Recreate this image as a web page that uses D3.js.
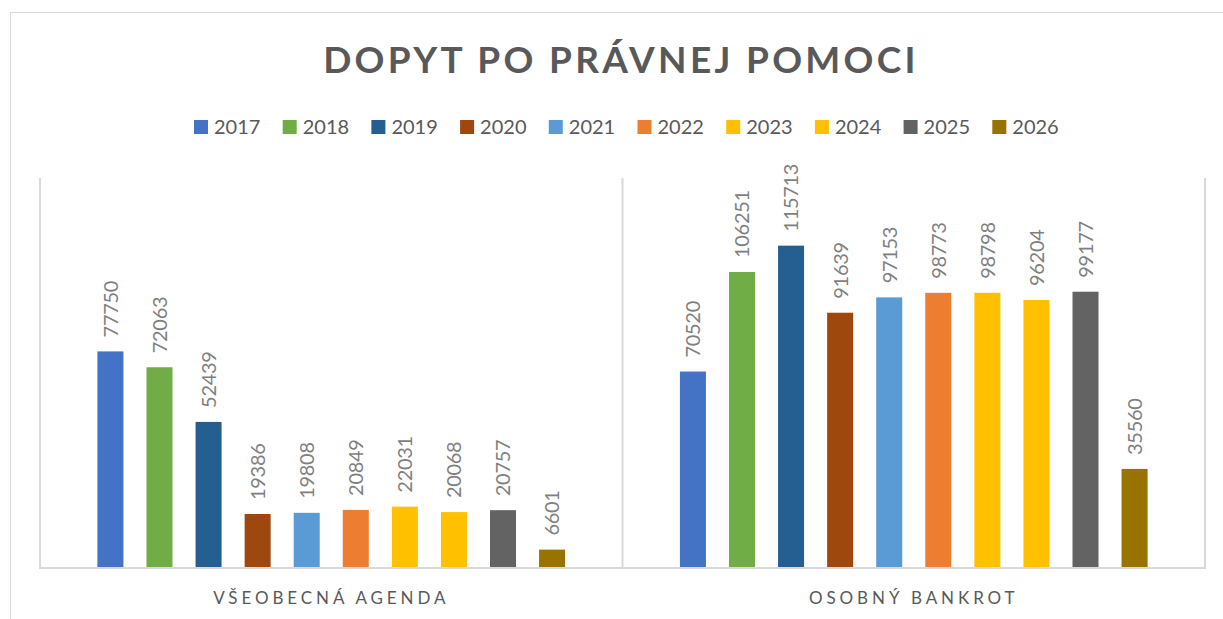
<!DOCTYPE html>
<html>
<head>
<meta charset="utf-8">
<style>
  body { margin: 0; background: #fff; }
  svg text { font-family: Lato, "Open Sans", sans-serif; }
</style>
</head>
<body>
<svg width="1223" height="619"></svg>
<script src="https://d3js.org/d3.v7.min.js"></script>
<script>
// data
const categories = ["VŠEOBECNÁ AGENDA", "OSOBNÝ BANKROT"];
const years = ["2017", "2018", "2019", "2020", "2021", "2022", "2023", "2024", "2025", "2026"];
const agendaValues = [77750, 72063, 52439, 19386, 19808, 20849, 22031, 20068, 20757, 6601];
const bankrotValues = [70520, 106251, 115713, 91639, 97153, 98773, 98798, 96204, 99177, 35560];
const colors = ["#4472C4", "#70AD47", "#255E91", "#9E480E", "#5B9BD5", "#ED7D31", "#FFC000", "#FFC000", "#636363", "#997300"];

const svg = d3.select("svg");

// chart border
svg.append("rect")
    .attr("x", 10.5).attr("y", 12.5)
    .attr("width", 1300).attr("height", 700)
    .attr("fill", "none").attr("stroke", "#d9d9d9");

const plot = { left: 40, right: 1205, top: 178, bottom: 568 };

const x0 = d3.scaleBand()
    .domain(categories)
    .range([plot.left, plot.right]);

const x1 = d3.scaleBand()
    .domain(years)
    .range([0, x0.bandwidth()])
    .paddingInner(0.47)
    .paddingOuter(1.17);

const y = d3.scaleLinear()
    .domain([0, 140000])
    .range([plot.bottom, plot.top]);

const color = d3.scaleOrdinal().domain(years).range(colors);

// title
svg.append("text")
    .attr("x", 621).attr("y", 73)
    .attr("text-anchor", "middle")
    .attr("font-size", 37)
    .attr("font-weight", "bold")
    .attr("letter-spacing", 3.3)
    .attr("fill", "#595959")
    .text("DOPYT PO PRÁVNEJ POMOCI");

// legend
const legend = svg.append("g").attr("transform", "translate(194,120)");
const item = legend.selectAll("g")
    .data(years)
    .enter().append("g")
    .attr("transform", (d, i) => `translate(${i * 88.7},0)`);
item.append("rect")
    .attr("width", 14).attr("height", 14)
    .attr("fill", d => color(d));
item.append("text")
    .attr("x", 20).attr("y", 14)
    .attr("font-size", 20)
    .attr("fill", "#595959")
    .text(d => d);

// category separators and axis line
svg.append("g")
    .selectAll("line")
    .data([plot.left, ...categories.map(c => x0(c) + x0.bandwidth())])
    .enter().append("line")
    .attr("x1", d => d).attr("x2", d => d)
    .attr("y1", plot.top).attr("y2", plot.bottom)
    .attr("stroke", "#d9d9d9").attr("stroke-width", 2);

svg.append("line")
    .attr("x1", plot.left - 1).attr("x2", plot.right + 1)
    .attr("y1", plot.bottom).attr("y2", plot.bottom)
    .attr("stroke", "#d9d9d9").attr("stroke-width", 2);

// bars
const rows = [agendaValues, bankrotValues];
const groups = svg.append("g")
    .selectAll("g")
    .data(categories)
    .enter().append("g")
    .attr("transform", d => `translate(${x0(d)},0)`);

groups.selectAll("rect")
    .data((c, ci) => years.map((yr, i) => ({ year: yr, value: rows[ci][i] })))
    .enter().append("rect")
    .attr("x", d => x1(d.year))
    .attr("y", d => y(d.value))
    .attr("width", x1.bandwidth())
    .attr("height", d => plot.bottom - 1 - y(d.value))
    .attr("fill", d => color(d.year));

groups.selectAll("text")
    .data((c, ci) => years.map((yr, i) => ({ year: yr, value: rows[ci][i] })))
    .enter().append("text")
    .attr("transform", d => `translate(${x1(d.year) + x1.bandwidth() / 2},${y(d.value) - 14}) rotate(-90)`)
    .attr("dy", "0.37em")
    .attr("font-size", 20)
    .attr("letter-spacing", -0.3)
    .attr("fill", "#7f7f7f")
    .text(d => d.value);

// category labels
svg.append("g")
    .selectAll("text")
    .data(categories)
    .enter().append("text")
    .attr("x", d => x0(d) + x0.bandwidth() / 2)
    .attr("y", 604)
    .attr("text-anchor", "middle")
    .attr("font-size", 17)
    .attr("letter-spacing", 3.9)
    .attr("fill", "#595959")
    .text(d => d);
</script>
</body>
</html>
